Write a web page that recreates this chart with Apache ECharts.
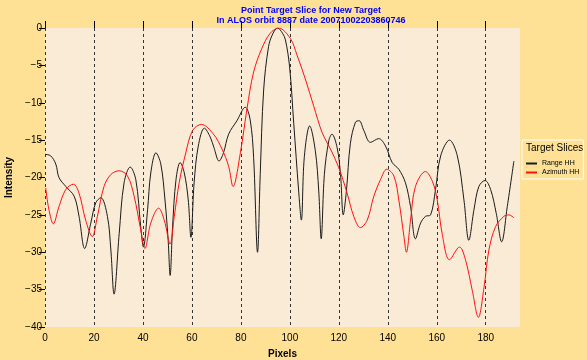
<!DOCTYPE html>
<html><head><meta charset="utf-8">
<script src="https://cdn.jsdelivr.net/npm/echarts@6/dist/echarts.min.js"></script>
<style>html,body{margin:0;padding:0;background:#FFE196;}#c{width:587px;height:360px;}</style>
</head><body><div id="c"></div>
<script>
const titleLines = ['Point Target Slice for New Target', 'In ALOS orbit 8887 date 20071002203860746'];
const seriesNames = ['Range HH', 'Azimuth HH'];
const seriesColors = ['#1a1a1a', '#FF1010'];
const xTicks = [0, 20, 40, 60, 80, 100, 120, 140, 160, 180];
const yTicks = [0, -5, -10, -15, -20, -25, -30, -35, -40];

const rangeX = [0,2.3,4.4,5.7,8.5,11.9,13.9,16.2,18.7,20.7,22.8,25.5,26.9,28.2,30.3,32.3,34.8,37.1,39.1,40.2,41.9,43.2,45.3,47.3,49,50.3,51.1,52.1,53.5,55.2,56.9,58.5,59.6,60.9,62.6,65.1,67.5,69,71.1,72.9,75,78.4,81.8,83.8,85.2,86.8,87.9,89.3,91.3,93,95,97,98.2,99.9,101.6,103.6,104.7,105.9,108.1,110.4,111.8,112.8,114.1,115.9,117.2,119.3,120.7,121.8,123.1,124.7,126.8,128.3,130.2,132.9,136.3,139.1,141.8,144.5,147.2,149.3,151.3,153.4,155.4,157.5,159.5,161.6,165.2,168.4,171.1,173.1,175.2,177.2,179.7,182,184.3,186.5,188.8,191.5];
const rangeY = [-16.9,-17.1,-18.2,-20,-21.2,-22.5,-25.2,-29.5,-26.1,-23.4,-22.7,-25.2,-29.7,-35.6,-27.5,-20.7,-18.6,-20.3,-26.6,-29.3,-24.3,-19.4,-16.7,-18.2,-23,-28.4,-33.1,-26.6,-20.3,-18,-19.4,-23,-28,-20.7,-15.8,-13.4,-14.6,-16,-17.8,-16.7,-14.2,-12.4,-10.6,-12.3,-17.3,-30,-19.6,-8.3,-2.5,-0.8,0,-0.7,-1.6,-5.2,-12.8,-21.8,-25.7,-17.3,-13.1,-16.4,-21.8,-28.2,-19.6,-15.1,-14.2,-16,-19.6,-25,-21.8,-15.5,-12.6,-12.4,-13.7,-15.3,-14.8,-15.8,-18,-18.9,-20.7,-23.9,-28.2,-26.1,-25.2,-25,-21.6,-17.1,-15,-17.1,-23,-28.4,-24.3,-21.2,-20.4,-21.6,-24.8,-28.6,-23.9,-17.8];

const azX = [0.3,1.6,3.4,5.7,8.5,11.6,13.9,16.6,19.3,21.4,24.1,26.9,30.3,33.7,36.4,39.1,40.8,43.2,46.4,48.7,51.1,52.8,54.8,57.5,60.3,63.9,68.8,72.3,75,76.8,79.8,82.5,85.2,88.6,92,95.4,100.2,102.9,106.3,109.7,113.2,116.6,120,123.4,126.1,128.8,131.6,134.3,137,139.6,142.5,144.5,146.6,147.6,149.3,151.3,155.4,158.2,160.2,162.2,165.2,169.3,171.8,174.5,177,179.3,181.3,184,187.4,189.5,191.5];
const azY = [-21.4,-24.3,-26.2,-23.9,-21.6,-20.9,-22.1,-25.7,-27.9,-25.2,-21.2,-19.6,-19.1,-19.8,-22.5,-27,-29.5,-26.1,-24.1,-25.7,-28.9,-25.2,-20.7,-16.7,-13.7,-12.9,-14.2,-16.2,-18.5,-21.2,-16.7,-10.8,-5.9,-2.7,-0.7,0,-1.4,-3.6,-6.8,-10.4,-14,-16.2,-18.7,-22.1,-25.2,-26.7,-25.7,-22.5,-20.3,-18.9,-19.8,-23,-27.9,-30,-25.7,-21.2,-19.2,-20.5,-23,-27.5,-31,-29.3,-31.1,-35.1,-38.7,-34.7,-29.7,-26.6,-25.2,-25,-25.4];

const pairs = (xs, ys) => xs.map((x, i) => [x, ys[i]]);
const FONT = '"Liberation Sans", Arial, sans-serif';

const chart = echarts.init(document.getElementById('c'), null, {renderer: 'canvas'});
chart.setOption({
  backgroundColor: '#FFE196',
  animation: false,
  title: {
    text: titleLines.join('\n'),
    left: 306, top: 1, textAlign: 'center',
    textStyle: {color: '#0000FF', fontSize: 9, fontWeight: 'bold', fontFamily: FONT, lineHeight: 10}
  },
  grid: {left: 45, right: 67, top: 28, bottom: 33, show: true, backgroundColor: '#FAEBD7', borderWidth: 0,
    outerBoundsMode: 'none', containLabel: false},
  xAxis: {
    type: 'value', min: 0, max: 194,
    name: 'Pixels', nameLocation: 'middle', nameGap: 22,
    nameTextStyle: {color: '#000', fontSize: 10, fontWeight: 'bold', fontFamily: FONT},
    axisLine: {show: false},
    axisTick: {show: true, inside: true, length: 7, lineStyle: {color: '#000'}, customValues: xTicks},
    axisLabel: {color: '#000', fontSize: 10, fontFamily: FONT, margin: 6,
      customValues: xTicks, formatter: v => String(v)},
    splitLine: {show: true, lineStyle: {color: '#333', type: [3, 3], width: 1}}
  },
  yAxis: {
    type: 'value', min: -40, max: 0, interval: 5,
    name: 'Intensity', nameLocation: 'middle', nameGap: 25,
    nameTextStyle: {color: '#000', fontSize: 10, fontWeight: 'bold', fontFamily: FONT},
    axisLine: {show: false},
    axisTick: {show: true, inside: false, length: 6, lineStyle: {color: '#000'}},
    axisLabel: {color: '#000', fontSize: 10, fontFamily: FONT, margin: 3,
      customValues: yTicks,
      formatter: v => (v < 0 ? '\u2212' + Math.abs(v) : String(v))},
    splitLine: {show: false}
  },
  legend: {
    orient: 'vertical', left: 522, top: 140, icon: 'rect',
    padding: [20, 4, 3, 4], itemGap: 2, itemWidth: 11, itemHeight: 2,
    borderColor: '#fff', borderWidth: 1,
    textStyle: {color: '#000', fontSize: 7, fontFamily: FONT},
    data: seriesNames.map((n, i) => ({name: n, itemStyle: {color: seriesColors[i], borderWidth: 0}}))
  },
  graphic: [{
    type: 'text', left: 526, top: 143,
    style: {text: 'Target Slices', fill: '#000', font: '10px ' + FONT}
  }],
  series: [
    {name: seriesNames[0], type: 'line', data: pairs(rangeX, rangeY), symbol: 'none', smooth: 0.35,
      lineStyle: {color: seriesColors[0], width: 1}, itemStyle: {color: seriesColors[0]}},
    {name: seriesNames[1], type: 'line', data: pairs(azX, azY), symbol: 'none', smooth: 0.35,
      lineStyle: {color: seriesColors[1], width: 1}, itemStyle: {color: seriesColors[1]}}
  ]
});
</script></body></html>
